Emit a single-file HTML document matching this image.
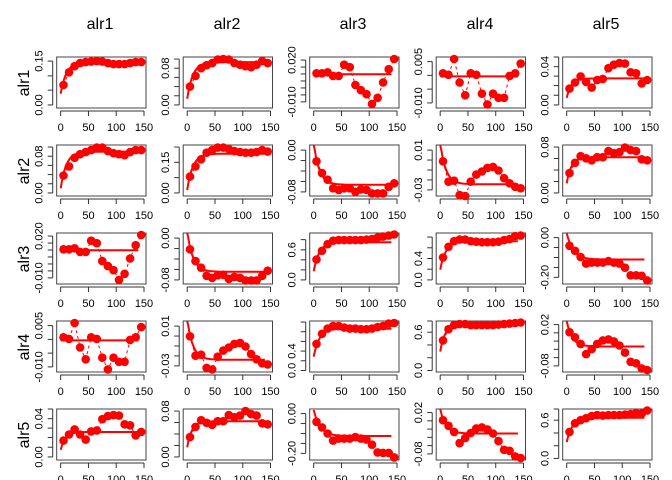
<!DOCTYPE html>
<html><head><meta charset="utf-8"><style>
html,body{margin:0;padding:0;background:#fff;}
svg{display:block;font-family:"Liberation Sans",sans-serif;}
</style></head><body>
<svg id="s" width="672" height="480" xmlns="http://www.w3.org/2000/svg">
<text x="100" y="29" font-size="16" text-anchor="middle">alr1</text>
<text x="227" y="29" font-size="16" text-anchor="middle">alr2</text>
<text x="353" y="29" font-size="16" text-anchor="middle">alr3</text>
<text x="480" y="29" font-size="16" text-anchor="middle">alr4</text>
<text x="606" y="29" font-size="16" text-anchor="middle">alr5</text>
<text transform="translate(29,83) rotate(-90)" font-size="16" text-anchor="middle">alr1</text>
<text transform="translate(29,171) rotate(-90)" font-size="16" text-anchor="middle">alr2</text>
<text transform="translate(29,259) rotate(-90)" font-size="16" text-anchor="middle">alr3</text>
<text transform="translate(29,347) rotate(-90)" font-size="16" text-anchor="middle">alr4</text>
<text transform="translate(29,435) rotate(-90)" font-size="16" text-anchor="middle">alr5</text>
</svg>
<script>
var T={
A:{t:[0.94,0.65,0.37,0.08],l:{0:"0.00",3:"0.15"}},
B:{t:[0.94,0.76,0.58,0.40,0.22,0.04],l:{0:"0.00",4:"0.08"}},
C:{t:[0.06,0.197,0.333,0.47,0.607,0.743,0.88],l:{0:"0.020",6:"-0.010"}},
D:{t:[0.09,0.36,0.63,0.90],l:{0:"0.005",3:"-0.010"}},
E:{t:[0.94,0.75,0.56,0.375,0.19,0.0],l:{0:"0.00",4:"0.04"}},
F:{t:[0.94,0.64,0.34,0.04],l:{0:"0.00",2:"0.15"}},
G:{t:[0.10,0.305,0.51,0.715,0.92],l:{0:"0.00",4:"-0.08"}},
H:{t:[0.10,0.295,0.49,0.685,0.88],l:{0:"0.01",4:"-0.03"}},
I:{t:[0.94,0.715,0.49,0.265,0.04],l:{0:"0.00",4:"0.08"}},
J:{t:[0.92,0.723,0.526,0.33,0.13],l:{0:"0.0",3:"0.6"}},
K:{t:[0.92,0.71,0.50,0.29,0.08],l:{0:"0.0",2:"0.4"}},
L:{t:[0.09,0.285,0.48,0.675,0.87],l:{0:"0.00",4:"-0.20"}},
M:{t:[0.97,0.78,0.59,0.40,0.21,0.02],l:{0:"0.0",2:"0.4"}},
N:{t:[0.97,0.72,0.47,0.22,0.0],l:{0:"0.0",3:"0.6"}},
O:{t:[0.07,0.232,0.394,0.556,0.718,0.88],l:{0:"0.02",5:"-0.08"}}
};
var P=[
[["A",[.55,.30,.18,.12,.10,.09,.08,.09,.12,.14,.14,.14,.12,.10,.10],.72,.10,30],
 ["B",[.58,.37,.22,.16,.12,.05,.04,.05,.12,.15,.18,.20,.15,.08,.12],.82,.10,30],
 ["C",[.32,.32,.30,.37,.37,.15,.20,.55,.65,.73,.92,.80,.50,.24,.04],.34,.34,30],
 ["D",[.32,.35,.04,.50,.75,.32,.35,.72,.93,.72,.80,.80,.37,.32,.13],.38,.38,30],
 ["E",[.62,.50,.38,.49,.60,.45,.43,.22,.15,.12,.13,.30,.32,.52,.45],.80,.42,25]],
[["B",[.60,.42,.25,.18,.14,.10,.05,.05,.12,.16,.18,.20,.14,.10,.10],.85,.13,30],
 ["F",[.62,.42,.28,.15,.10,.05,.05,.08,.12,.14,.15,.15,.14,.10,.13],.88,.17,30],
 ["G",[.32,.55,.68,.85,.88,.85,.85,.92,.87,.88,.95,.95,.95,.82,.75],-.05,.78,30],
 ["H",[.32,.72,.70,.98,1.0,.72,.58,.52,.45,.43,.50,.65,.75,.82,.85],-.05,.77,30],
 ["I",[.55,.35,.22,.26,.30,.24,.24,.12,.16,.14,.05,.10,.12,.28,.30],.75,.24,25]],
[["C",[.32,.32,.30,.37,.37,.15,.20,.55,.65,.73,.92,.80,.50,.24,.04],.34,.34,30],
 ["G",[.32,.55,.68,.84,.88,.83,.82,.90,.86,.88,.93,.93,.93,.84,.74],-.05,.76,30],
 ["J",[.52,.35,.22,.15,.14,.14,.14,.14,.14,.13,.12,.09,.07,.05,.03],.75,.18,30],
 ["K",[.48,.27,.16,.13,.13,.16,.17,.18,.18,.18,.17,.14,.12,.06,.05],.72,.16,30],
 ["L",[.25,.35,.47,.60,.58,.58,.58,.55,.58,.60,.68,.83,.83,.84,.93],.0,.52,35]],
[["D",[.32,.35,.04,.52,.75,.32,.35,.72,.95,.72,.80,.80,.37,.32,.12],.38,.38,30],
 ["H",[.30,.68,.66,.92,.95,.70,.58,.52,.45,.43,.50,.65,.75,.83,.85],-.05,.76,30],
 ["M",[.45,.25,.15,.10,.10,.13,.15,.15,.16,.16,.15,.12,.10,.05,.04],.70,.15,30],
 ["N",[.38,.16,.08,.06,.06,.08,.08,.08,.08,.08,.07,.06,.05,.04,.03],.60,.08,25],
 ["O",[.22,.32,.45,.65,.55,.45,.38,.36,.40,.48,.62,.80,.83,.93,.96],.0,.50,30]],
[["E",[.62,.50,.40,.50,.60,.44,.42,.20,.14,.12,.13,.30,.32,.52,.45],.80,.45,25],
 ["I",[.55,.35,.22,.27,.31,.24,.24,.12,.16,.13,.04,.10,.13,.28,.30],.75,.24,25],
 ["L",[.25,.36,.48,.62,.58,.58,.58,.55,.58,.60,.70,.85,.86,.86,.95],.02,.53,35],
 ["O",[.22,.33,.45,.67,.57,.47,.38,.36,.40,.48,.63,.80,.82,.93,.96],.0,.48,30],
 ["N",[.45,.28,.22,.18,.14,.12,.13,.12,.12,.12,.11,.10,.08,.09,.03],.65,.17,30]]
];
var s=document.getElementById("s"),h="";
for(var r=0;r<5;r++)for(var c=0;c<5;c++){
 var L=56.7+126.5*c,R=L+89.3,Tp=57+88*r,B=Tp+51,H=51;
 var X=function(x){return L+4+x*(R-2-L-4)/150;};
 var Y=function(f){return Tp+f*H;};
 var p=P[r][c],tk=T[p[0]];
 h+='<rect x="'+L+'" y="'+Tp+'" width="'+(R-L)+'" height="'+H+'" fill="none" stroke="#444" stroke-width="1"/>';
 var ys=tk.t.map(Y),ymin=Math.min.apply(null,ys),ymax=Math.max.apply(null,ys);
 h+='<line x1="'+(L-4)+'" y1="'+ymin+'" x2="'+(L-4)+'" y2="'+ymax+'" stroke="#333"/>';
 tk.t.forEach(function(f,i){var y=Y(f);h+='<line x1="'+(L-9)+'" y1="'+y+'" x2="'+(L-4)+'" y2="'+y+'" stroke="#333"/>';
  if(tk.l[i]!==undefined)h+='<text transform="translate('+(L-14)+','+y+') rotate(-90)" font-size="11" text-anchor="middle">'+tk.l[i]+'</text>';});
 h+='<line x1="'+X(0)+'" y1="'+(B+3)+'" x2="'+X(150)+'" y2="'+(B+3)+'" stroke="#333"/>';
 [0,50,100,150].forEach(function(v){var x=X(v);h+='<line x1="'+x+'" y1="'+(B+3)+'" x2="'+x+'" y2="'+(B+8)+'" stroke="#333"/>';
  h+='<text x="'+x+'" y="'+(B+23)+'" font-size="11" text-anchor="middle">'+v+'</text>';});
 var d="",tau=p[4]/3;
 for(var x=0;x<=140;x+=2){var f=p[3]+(p[2]-p[3])*Math.exp(-x/tau);f=Math.max(f,0);d+=(x?"L":"M")+X(x).toFixed(1)+","+Y(f).toFixed(1);}
 h+='<path d="'+d+'" fill="none" stroke="#f00" stroke-width="2"/>';
 var dd="";
 p[1].forEach(function(f,i){dd+=(i?"L":"M")+X(5+10*i).toFixed(1)+","+Y(f).toFixed(1);});
 h+='<path d="'+dd+'" fill="none" stroke="#f00" stroke-width="1" stroke-dasharray="3,3"/>';
 p[1].forEach(function(f,i){h+='<circle cx="'+X(5+10*i).toFixed(1)+'" cy="'+Y(f).toFixed(1)+'" r="4.3" fill="#f00"/>';});
}
s.insertAdjacentHTML("beforeend",h);
</script>
</body></html>
